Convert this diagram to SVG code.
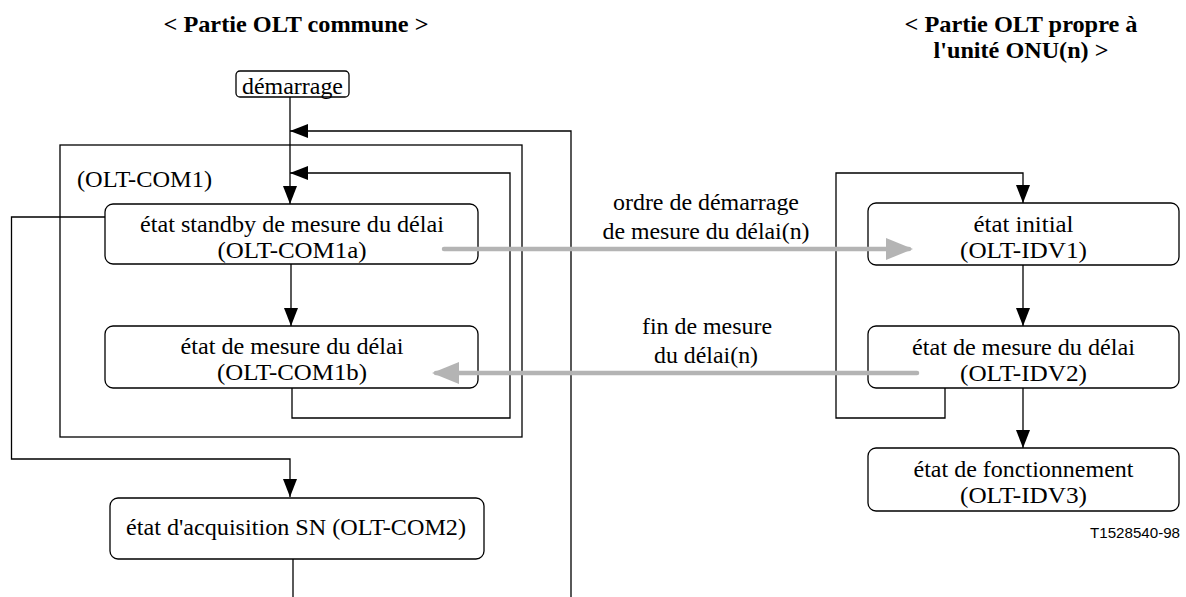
<svg xmlns="http://www.w3.org/2000/svg" width="1186" height="597" viewBox="0 0 1186 597">
<style>
text{font-family:"Liberation Serif","Times New Roman",Times,"DejaVu Serif","Noto Serif",serif;font-size:24px;fill:#000;}
.t{text-anchor:middle;}
.title{font-weight:bold;text-anchor:middle;}
.box{fill:#fff;stroke:#000;stroke-width:1.3;}
.ln{fill:none;stroke:#000;stroke-width:1.3;}
.gr{fill:none;stroke:#b4b4b4;stroke-width:4.5;stroke-linecap:round;}
.code{font-family:"Liberation Sans",Arial,"DejaVu Sans",sans-serif;font-size:15px;text-anchor:end;}
</style>
<defs>
<marker id="ah" markerWidth="18" markerHeight="14" refX="18" refY="7" orient="auto" markerUnits="userSpaceOnUse"><path d="M0,0 L18,7 L0,14 z" fill="#000"/></marker>
<marker id="gh" markerWidth="27" markerHeight="22" refX="23" refY="11" orient="auto" markerUnits="userSpaceOnUse"><path d="M0,0 L27,11 L0,22 z" fill="#b4b4b4"/></marker>
</defs>

<g id="titles" font-family="Liberation Serif, Times New Roman, serif">
<text class="title" x="296" y="32" textLength="265" lengthAdjust="spacingAndGlyphs">&lt; Partie OLT commune &gt;</text>
<text class="title" x="1021" y="32" textLength="233" lengthAdjust="spacingAndGlyphs">&lt; Partie OLT propre à</text>
<text class="title" x="1021" y="58" textLength="175" lengthAdjust="spacingAndGlyphs">l'unité ONU(n) &gt;</text>
</g>

<g id="OLT-COM1">
<rect class="ln" x="60" y="145" width="462" height="292"/>
<text x="77" y="187" textLength="135" lengthAdjust="spacingAndGlyphs">(OLT-COM1)</text>
</g>

<g id="demarrage">
<rect class="box" x="236" y="71" width="113" height="26" rx="4"/>
<text class="t" x="292.5" y="94" textLength="101" lengthAdjust="spacingAndGlyphs">démarrage</text>
</g>

<g id="OLT-COM1a">
<rect class="box" x="105" y="204" width="373" height="60" rx="8"/>
<text class="t" x="292" y="232" textLength="304" lengthAdjust="spacingAndGlyphs">état standby de mesure du délai</text>
<text class="t" x="292" y="258" textLength="149" lengthAdjust="spacingAndGlyphs">(OLT-COM1a)</text>
</g>

<g id="OLT-COM1b">
<rect class="box" x="105" y="326" width="373" height="62" rx="8"/>
<text class="t" x="292" y="354" textLength="223" lengthAdjust="spacingAndGlyphs">état de mesure du délai</text>
<text class="t" x="292" y="380" textLength="150" lengthAdjust="spacingAndGlyphs">(OLT-COM1b)</text>
</g>

<g id="OLT-COM2">
<rect class="box" x="110" y="498" width="374" height="61" rx="8"/>
<text class="t" x="296" y="535" textLength="340" lengthAdjust="spacingAndGlyphs">état d'acquisition SN (OLT-COM2)</text>
</g>

<g id="OLT-IDV1">
<rect class="box" x="868" y="203" width="311" height="62" rx="8"/>
<text class="t" x="1023.5" y="232" textLength="100" lengthAdjust="spacingAndGlyphs">état initial</text>
<text class="t" x="1023.5" y="258" textLength="127" lengthAdjust="spacingAndGlyphs">(OLT-IDV1)</text>
</g>

<g id="OLT-IDV2">
<rect class="box" x="868" y="326" width="311" height="62" rx="8"/>
<text class="t" x="1023.5" y="355" textLength="223" lengthAdjust="spacingAndGlyphs">état de mesure du délai</text>
<text class="t" x="1023.5" y="381" textLength="127" lengthAdjust="spacingAndGlyphs">(OLT-IDV2)</text>
</g>

<g id="OLT-IDV3">
<rect class="box" x="868" y="448" width="311" height="63" rx="8"/>
<text class="t" x="1023.5" y="477" textLength="220" lengthAdjust="spacingAndGlyphs">état de fonctionnement</text>
<text class="t" x="1023.5" y="503" textLength="127" lengthAdjust="spacingAndGlyphs">(OLT-IDV3)</text>
</g>

<g id="connectors">
<path class="ln" d="M290,97 V204" marker-end="url(#ah)"/>
<path class="ln" d="M571,597 V131 H290" marker-end="url(#ah)"/>
<path class="ln" d="M292,388 V418 H510 V173 H290" marker-end="url(#ah)"/>
<path class="ln" d="M291,264 V326" marker-end="url(#ah)"/>
<path class="ln" d="M105,217 H11.5 V459 H290 V497" marker-end="url(#ah)"/>
<path class="ln" d="M293,559 V597"/>
<path class="ln" d="M945,388 V418 H836 V173 H1023 V203" marker-end="url(#ah)"/>
<path class="ln" d="M1023,265 V326" marker-end="url(#ah)"/>
<path class="ln" d="M1023,388 V448" marker-end="url(#ah)"/>
<path class="gr" d="M444,249 H909" marker-end="url(#gh)"/>
<path class="gr" d="M917,373 H436" marker-end="url(#gh)"/>
<text class="t" x="706" y="210" textLength="186" lengthAdjust="spacingAndGlyphs">ordre de démarrage</text>
<text class="t" x="706" y="239" textLength="207" lengthAdjust="spacingAndGlyphs">de mesure du délai(n)</text>
<text class="t" x="707" y="334" textLength="130" lengthAdjust="spacingAndGlyphs">fin de mesure</text>
<text class="t" x="706" y="363" textLength="104" lengthAdjust="spacingAndGlyphs">du délai(n)</text>
</g>

<text class="code" x="1180" y="538" textLength="90" lengthAdjust="spacingAndGlyphs">T1528540-98</text>
</svg>
